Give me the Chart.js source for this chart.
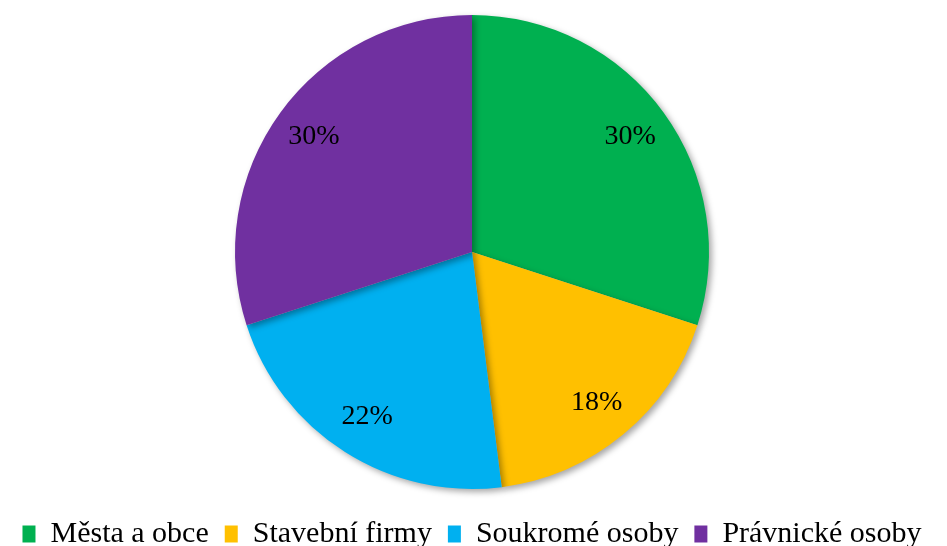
<!DOCTYPE html>
<html><head><meta charset="utf-8">
<script src="https://cdn.jsdelivr.net/npm/chart.js@4"></script>
<style>html,body{margin:0;padding:0;background:#fff}#wrap{width:947px;height:546px;position:relative}</style>
</head><body><div id="wrap"><canvas id="c" width="947" height="546"></canvas></div>
<script>
const categories = ["Města a obce", "Stavební firmy", "Soukromé osoby", "Právnické osoby"];
const shares = [30, 18, 22, 30];
const labels = ["30%", "18%", "22%", "30%"];
const colors = ["#00B050", "#FFC000", "#00B0F0", "#7030A0"];

const shadowPlugin = {
  id: 'shadow',
  beforeDatasetsDraw(chart) {
    const ctx = chart.ctx; ctx.save();
    ctx.shadowColor = 'rgba(0,0,0,0.35)'; ctx.shadowBlur = 6; ctx.shadowOffsetX = 3; ctx.shadowOffsetY = 3;
  },
  afterDatasetsDraw(chart) {
    const ctx = chart.ctx; ctx.restore();
    const meta = chart.getDatasetMeta(0);
    ctx.save();
    ctx.font = '28px "Liberation Serif", "Times New Roman", serif';
    ctx.fillStyle = '#000'; ctx.textAlign = 'center'; ctx.textBaseline = 'middle';
    meta.data.forEach((arc, i) => {
      const p = arc.getProps(['x','y','startAngle','endAngle','outerRadius'], true);
      const mid = (p.startAngle + p.endAngle) / 2;
      const r = p.outerRadius * 0.825;
      ctx.fillText(labels[i], p.x + Math.cos(mid) * r, p.y + Math.sin(mid) * r);
    });
    ctx.restore();
  }
};

new Chart(document.getElementById('c'), {
  type: 'pie',
  data: { labels: categories, datasets: [{ data: shares, backgroundColor: colors, borderWidth: 0 }] },
  options: {
    responsive: false, animation: false,
    layout: { padding: { top: 15, left: 0, right: 3, bottom: 0 } },
    plugins: {
      tooltip: { enabled: false },
      legend: {
        position: 'bottom',
        maxHeight: 57,
        title: { display: true, text: ' ', color: 'rgba(0,0,0,0)', padding: 0, font: { size: 14, lineHeight: 1 } },
        labels: { color: '#000', boxWidth: 13, boxHeight: 17, padding: 16,
          font: { family: '"Liberation Serif", "Times New Roman", serif', size: 30 } }
      }
    }
  },
  plugins: [shadowPlugin]
});
</script></body></html>
